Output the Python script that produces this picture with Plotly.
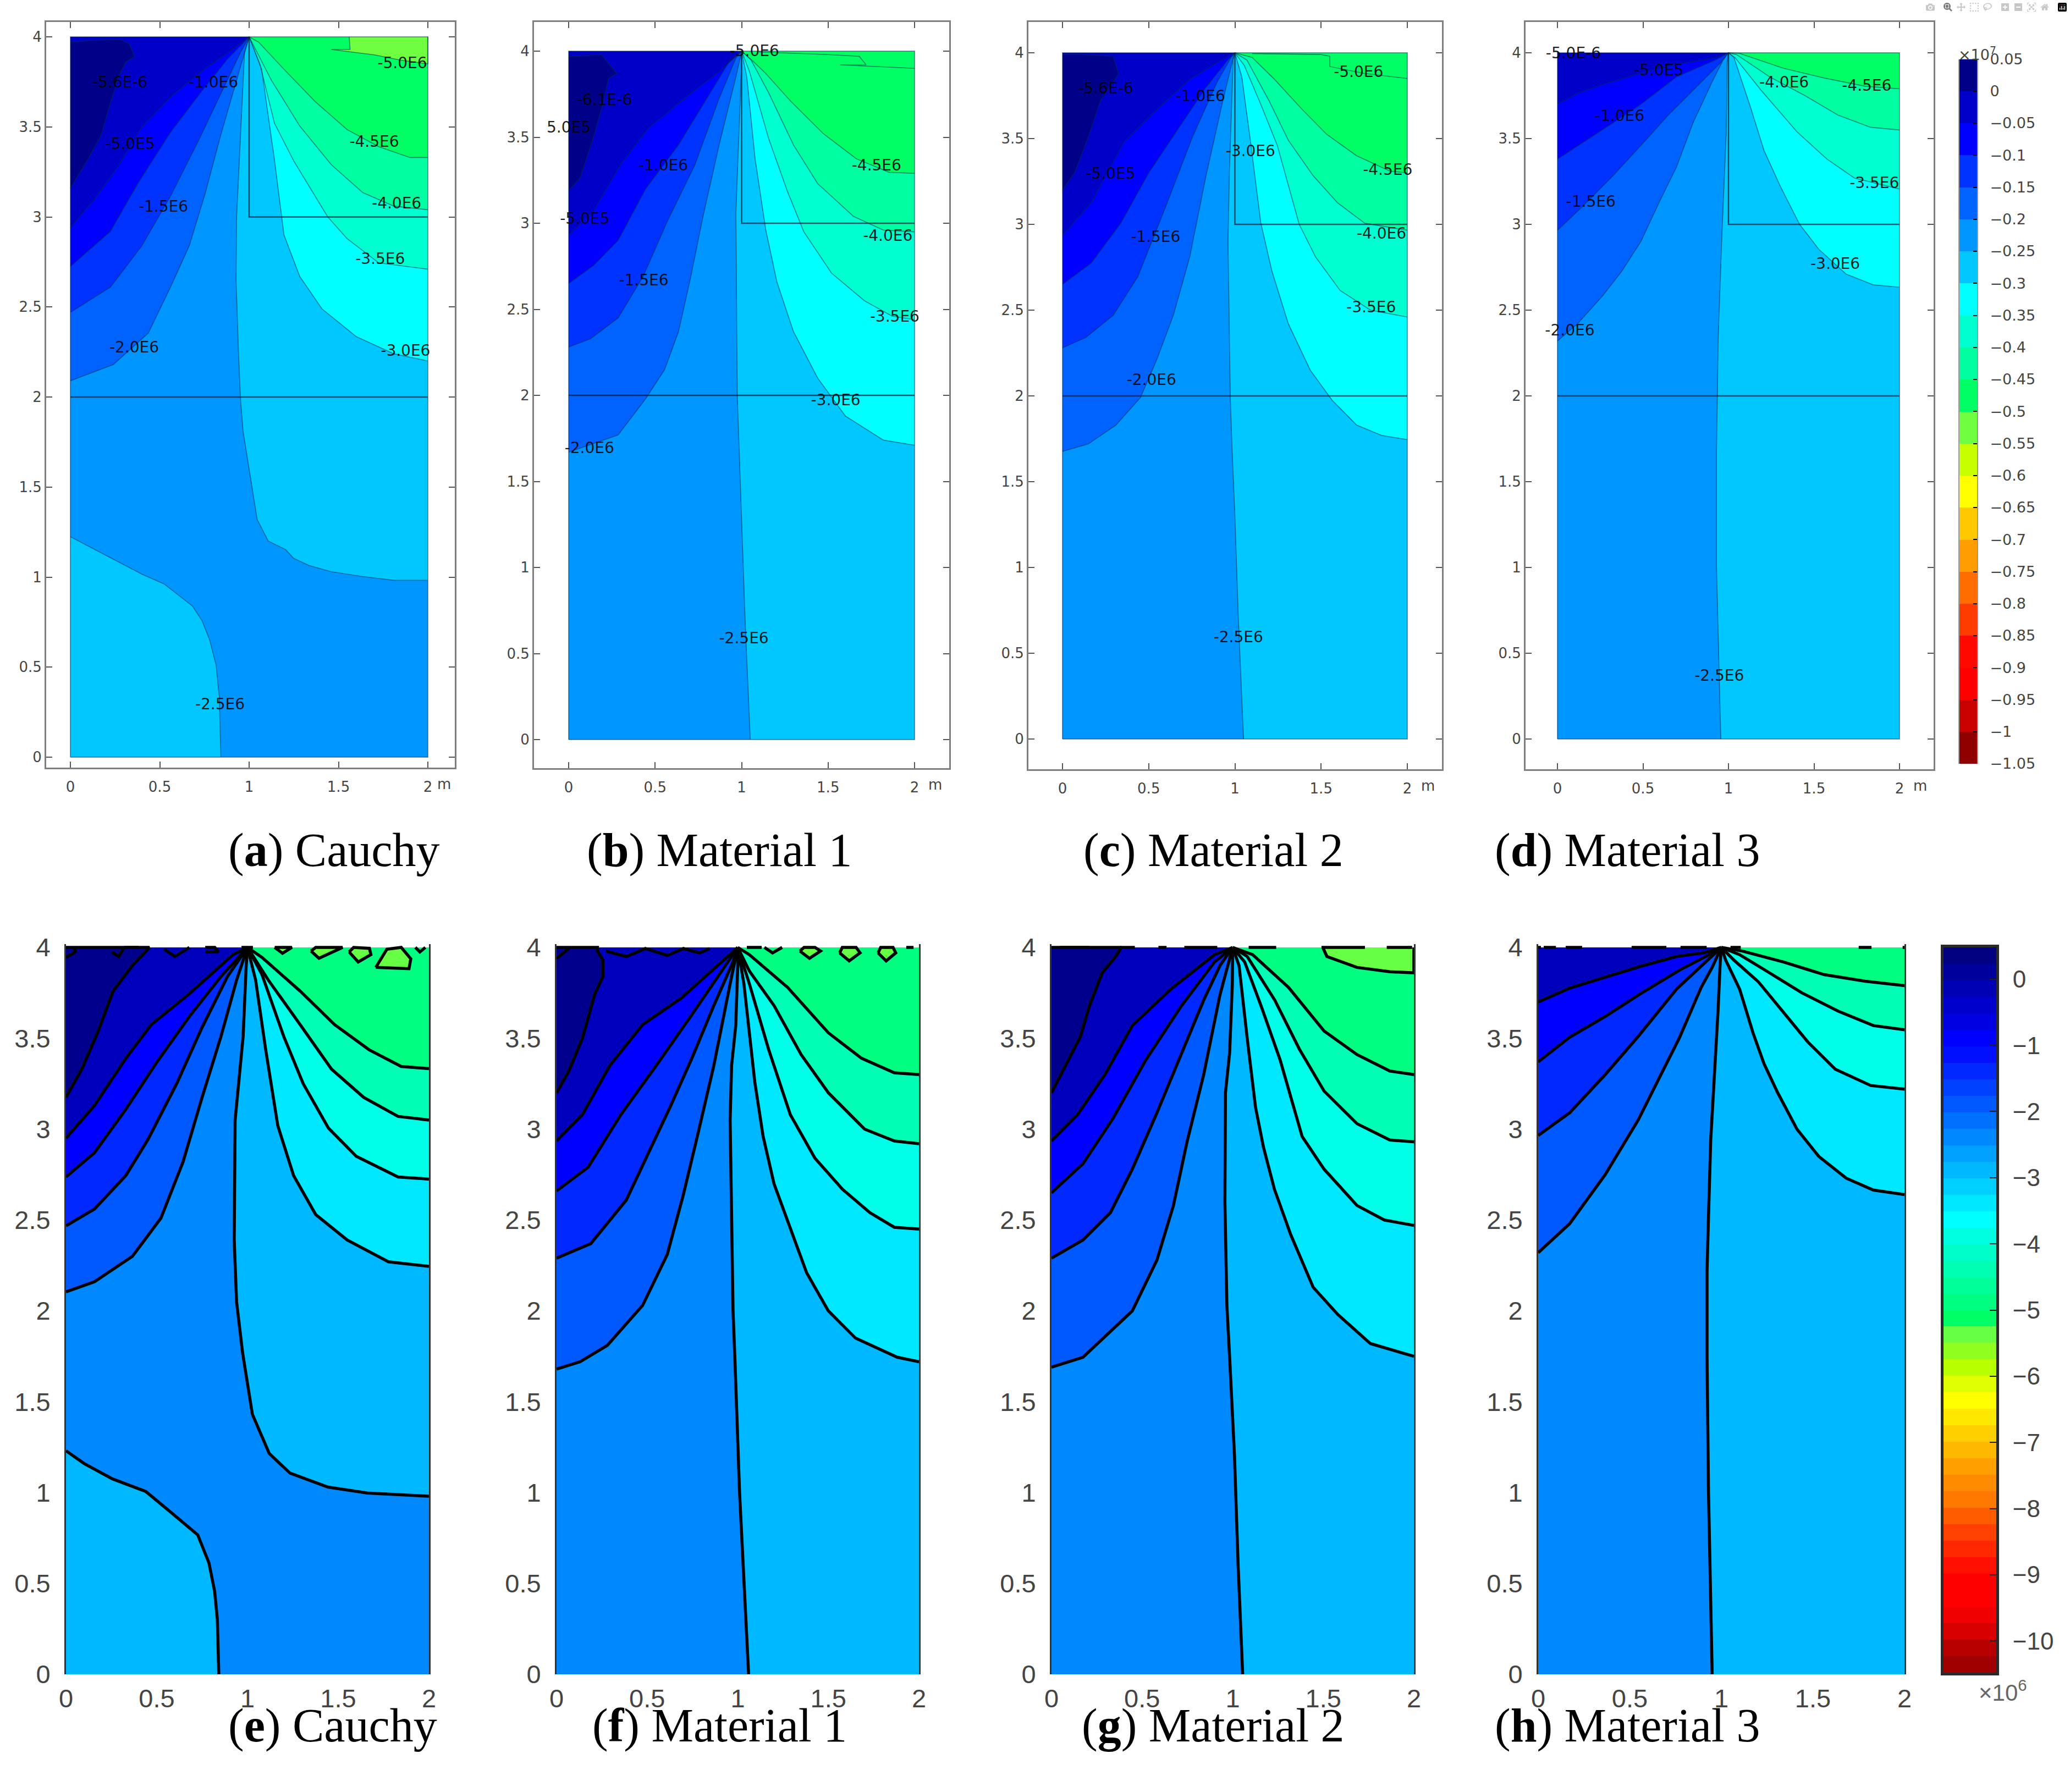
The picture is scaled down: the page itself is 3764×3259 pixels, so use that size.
import plotly.graph_objects as go

W, H = 3764, 3259
APEX = (1.0, 4.0)

# ---------- contour lines (x in m, y in m) ----------
A_LEFT = [
    [(0,3.16),(.08,3.29),(.17,3.45),(.22,3.62),(.27,3.78),(.31,3.86),(.36,3.89),(.33,3.96),(.28,3.985),(.12,3.98),(0,3.97)],
    [(0,2.94),(.136,3.10),(.26,3.27),(.40,3.50),(.577,3.68),(.75,3.82),(.88,3.91)],
    [(0,2.725),(.224,2.92),(.38,3.19),(.56,3.47),(.736,3.70),(.877,3.875)],
    [(0,2.47),(.224,2.61),(.40,2.84),(.56,3.115),(.72,3.43),(.84,3.68),(.95,3.91)],
    [(0,2.09),(.24,2.18),(.436,2.355),(.56,2.61),(.665,2.84),(.754,3.13),(.84,3.45),(.93,3.76)],
]
A_MID = [(.974,3.91),(.93,3.0),(.927,2.65),(.94,2.26),(.951,2),(.966,1.81),(1.02,1.48),(1.045,1.32),(1.107,1.2),(1.204,1.153),(1.248,1.105),(1.336,1.064),(1.46,1.03),(1.636,1.003),(1.81,.982),(2,.982)]
A_LOWER = [(0,1.224),(.136,1.153),(.295,1.07),(.40,1.016),(.524,.962),(.595,.907),(.683,.839),(.737,.757),(.78,.648),(.815,.512),(.833,.334),(.842,0)]
A_RIGHT = [
    [(1.07,3.82),(1.14,3.33),(1.195,2.90),(1.283,2.67),(1.407,2.49),(1.60,2.335),(1.81,2.24),(2,2.2)],
    [(1.06,3.85),(1.142,3.52),(1.25,3.31),(1.44,3.0),(1.548,2.88),(1.725,2.745),(2,2.71)],
    [(1.124,3.76),(1.283,3.505),(1.46,3.29),(1.636,3.135),(1.81,3.06),(2,3.04)],
    [(1.054,3.97),(1.195,3.82),(1.37,3.64),(1.548,3.485),(1.725,3.39),(1.9,3.33),(2,3.33)],
]
A_TOP_PATCH = [(1.56,4),(1.565,3.93),(1.46,3.93),(1.7,3.90),(1.85,3.87),(2,3.85),(2,4)]

B_LEFT = [
    [(0,3.19),(.065,3.26),(.144,3.5),(.207,3.725),(.23,3.84),(.278,3.87),(.19,3.98),(.05,3.97),(0,3.97)],
    [(0,2.93),(.144,3.07),(.30,3.34),(.46,3.55),(.65,3.71),(.87,3.88)],
    [(0,2.65),(.144,2.755),(.286,2.9),(.445,3.2),(.635,3.455),(.79,3.71),(.935,3.95)],
    [(0,2.28),(.128,2.33),(.286,2.45),(.43,2.69),(.57,3.01),(.73,3.34),(.87,3.725),(.967,3.96)],
    [(0,1.67),(.14,1.72),(.286,1.77),(.445,1.98),(.555,2.15),(.635,2.37),(.70,2.66),(.777,3.04),(.87,3.455),(.967,3.85)],
]
B_MID = [(1,3.93),(.967,3.06),(.975,2),(.986,1.68),(1.0,1.3),(1.02,.7),(1.05,0)]
B_RIGHT = [
    [(1.03,3.85),(1.078,3.375),(1.14,2.96),(1.204,2.66),(1.3,2.37),(1.44,2.10),(1.6,1.88),(1.82,1.74),(2,1.71)],
    [(1.046,3.88),(1.157,3.49),(1.267,3.18),(1.36,2.95),(1.52,2.71),(1.71,2.55),(1.87,2.46),(2,2.44)],
    [(1.054,3.95),(1.157,3.757),(1.3,3.455),(1.44,3.23),(1.647,3.04),(1.82,2.96),(2,2.95)],
    [(1.078,3.93),(1.14,3.87),(1.283,3.71),(1.473,3.52),(1.663,3.375),(1.853,3.296),(2,3.29)],
]
B_TOP_TRACE = [(1.1,3.995),(1.5,3.98),(1.68,3.97),(1.72,3.92),(1.57,3.92),(2,3.9)]

C_LEFT = [
    [(0,3.2),(.07,3.3),(.15,3.51),(.22,3.72),(.325,3.877),(.294,3.98),(.1,3.99),(0,3.99)],
    [(0,2.935),(.167,3.126),(.357,3.48),(.516,3.64),(.738,3.845),(.976,3.99)],
    [(0,2.65),(.167,2.775),(.34,3.01),(.5,3.3),(.66,3.54),(.833,3.8),(.96,3.96)],
    [(0,2.28),(.135,2.34),(.294,2.47),(.437,2.695),(.595,3.094),(.754,3.51),(.897,3.83),(.976,3.97)],
    [(0,1.676),(.15,1.72),(.31,1.83),(.452,1.99),(.548,2.215),(.643,2.47),(.738,2.81),(.833,3.286),(.93,3.72),(.99,3.97)],
]
C_MID = [(.99,3.96),(.968,3.3),(.96,2.9),(.973,2),(.984,1.676),(1.0,1.3),(1.02,.7),(1.05,0)]
C_RIGHT = [
    [(1.04,3.86),(1.087,3.51),(1.15,3.01),(1.214,2.73),(1.31,2.42),(1.437,2.15),(1.563,1.976),(1.706,1.83),(1.85,1.77),(2,1.745)],
    [(1.055,3.925),(1.15,3.7),(1.246,3.46),(1.373,3.0),(1.468,2.81),(1.61,2.615),(1.786,2.5),(2,2.46)],
    [(1.07,3.957),(1.2,3.717),(1.31,3.49),(1.452,3.286),(1.595,3.126),(1.754,3.006),(2,2.966)],
    [(1.1,3.973),(1.23,3.845),(1.39,3.67),(1.532,3.525),(1.706,3.4),(1.9,3.31),(2,3.3)],
]
C_TOP_TRACE = [(1.1,3.995),(1.5,3.99),(1.55,3.98),(1.55,3.92),(1.75,3.88),(2,3.85)]

D_LEFT = [
    None,
    [(0,3.70),(.12,3.765),(.28,3.82),(.47,3.877),(.696,3.933),(.92,3.97)],
    [(0,3.38),(.136,3.47),(.296,3.573),(.488,3.70),(.696,3.86),(.92,3.957)],
    [(0,2.966),(.136,3.094),(.312,3.27),(.488,3.46),(.648,3.637),(.824,3.813),(.952,3.94)],
    [(0,2.32),(.12,2.423),(.264,2.583),(.376,2.727),(.488,2.9),(.6,3.14),(.696,3.334),(.792,3.59),(.904,3.83),(.968,3.957)],
]
D_MID = [(.992,3.94),(.987,3.54),(.96,2.9),(.94,2.34),(.93,1.676),(.93,1.0),(.955,0)]
D_RIGHT = [
    [(1.032,3.973),(1.128,3.685),(1.208,3.43),(1.304,3.22),(1.416,3.0),(1.528,2.855),(1.688,2.71),(1.848,2.647),(2,2.634)],
    [(1.04,3.97),(1.192,3.78),(1.4,3.54),(1.576,3.38),(1.736,3.27),(2,3.206)],
    [(1.048,3.989),(1.24,3.86),(1.448,3.75),(1.64,3.637),(1.83,3.566),(2,3.55)],
    [(1.064,3.997),(1.32,3.91),(1.56,3.853),(1.8,3.805),(2,3.79)],
]

E_LEFT = [
    [(0,3.175),(.087,3.33),(.174,3.53),(.26,3.76),(.366,3.90),(.444,3.98),(.46,4),(0,4)],
    [(0,2.95),(.157,3.13),(.33,3.39),(.47,3.575),(.68,3.745),(.92,3.96)],
    [(0,2.737),(.157,2.87),(.33,3.11),(.505,3.375),(.68,3.62),(.854,3.84)],
    [(0,2.468),(.157,2.56),(.33,2.745),(.453,2.945),(.61,3.25),(.75,3.56),(.89,3.84)],
    [(0,2.105),(.157,2.16),(.366,2.30),(.523,2.51),(.645,2.82),(.75,3.175),(.854,3.51),(.94,3.82)],
]
E_MID = [(.993,3.9),(.976,3.51),(.932,3.05),(.927,2.39),(.94,2.05),(.973,1.77),(.996,1.617),(1.027,1.431),(1.12,1.215),(1.235,1.107),(1.444,1.03),(1.66,.998),(2,.98)]
E_LOWER = [(0,1.23),(.10,1.16),(.255,1.076),(.44,1.006),(.58,.89),(.726,.767),(.788,.612),(.819,.457),(.834,.303),(.842,0)]
E_RIGHT = [
    [(1.045,3.82),(1.10,3.44),(1.167,3.02),(1.254,2.745),(1.376,2.53),(1.55,2.39),(1.777,2.27),(2,2.245)],
    [(1.08,3.85),(1.20,3.51),(1.307,3.25),(1.446,3.006),(1.60,2.85),(1.83,2.737),(2,2.725)],
    [(1.115,3.82),(1.29,3.575),(1.463,3.33),(1.64,3.175),(1.83,3.07),(2,3.05)],
    [(1.08,3.945),(1.29,3.76),(1.48,3.575),(1.67,3.437),(1.847,3.345),(2,3.333)],
]
E_BLOBS = [
    [(1.15,4),(1.193,3.968),(1.245,4)],
    [(1.35,3.98),(1.394,3.94),(1.455,3.968),(1.524,4),(1.376,4)],
    [(1.56,3.975),(1.61,3.92),(1.68,3.96),(1.672,3.995),(1.585,4)],
    [(1.707,3.89),(1.768,3.99),(1.847,4),(1.9,3.937),(1.89,3.883)],
]
E_MARKS = [
    [(0,3.945),(.05,3.975),(.05,4)],
    [(.253,3.975),(.29,3.95),(.32,4)],
    [(.32,4),(.40,4)],
    [(.54,3.99),(.60,3.95),(.68,4)],
    [(.767,3.975),(.84,3.975),(.82,4),(.767,4)],
    [(.967,4),(1.03,4)],
    [(1.925,4),(1.95,3.975),(1.98,4)],
]

F_LEFT = [
    [(0,3.2),(.068,3.32),(.143,3.5),(.21,3.74),(.256,3.84),(.256,3.93),(.226,3.98),(.226,4),(0,4)],
    [(0,2.935),(.143,3.08),(.294,3.35),(.475,3.575),(.687,3.72),(.958,3.96)],
    [(0,2.66),(.174,2.79),(.355,3.08),(.55,3.35),(.747,3.63),(.93,3.9)],
    [(0,2.29),(.189,2.37),(.385,2.61),(.506,2.87),(.626,3.12),(.747,3.39),(.868,3.68),(.974,3.92)],
    [(0,1.68),(.13,1.72),(.28,1.81),(.475,2.03),(.611,2.31),(.70,2.64),(.777,2.96),(.868,3.35),(.958,3.8)],
]
F_MID = [(1.0,3.9),(.989,3.57),(.966,3.35),(.958,3.05),(.966,2.48),(.974,2.0),(.984,1.745),(1.01,1.0),(1.035,.5),(1.06,0)]
F_RIGHT = [
    [(1.034,3.8),(1.094,3.26),(1.14,2.96),(1.2,2.70),(1.29,2.45),(1.38,2.21),(1.50,2.0),(1.65,1.85),(1.88,1.745),(2,1.72)],
    [(1.064,3.8),(1.17,3.44),(1.29,3.08),(1.426,2.84),(1.577,2.67),(1.73,2.54),(1.864,2.46),(2,2.45)],
    [(1.064,3.87),(1.2,3.68),(1.35,3.41),(1.5,3.2),(1.70,3.0),(1.864,2.935),(2,2.92)],
    [(1.064,3.96),(1.275,3.78),(1.5,3.53),(1.683,3.39),(1.864,3.31),(2,3.30)],
]
F_BLOBS = [
    [(1.343,3.98),(1.396,3.94),(1.457,3.98),(1.426,4),(1.366,4)],
    [(1.562,3.97),(1.615,3.926),(1.675,3.97),(1.653,4),(1.577,4)],
    [(1.774,3.97),(1.819,3.926),(1.872,3.97),(1.857,4),(1.789,4)],
]
F_MARKS = [
    [(0,3.94),(.068,3.994)],
    [(.272,3.98),(.385,3.95),(.49,3.994),(.611,3.956),(.70,3.994),(.79,3.97),(.845,3.994)],
    [(1.05,4),(1.132,4)],
    [(1.147,4),(1.192,3.97),(1.245,4)],
    [(1.93,4),(1.97,4)],
]

G_LEFT = [
    [(0,3.2),(.068,3.33),(.16,3.51),(.21,3.68),(.28,3.86),(.355,3.95),(.385,4),(0,4)],
    [(0,2.935),(.144,3.08),(.295,3.30),(.446,3.57),(.658,3.77),(.9,3.96)],
    [(0,2.65),(.174,2.81),(.34,3.06),(.52,3.38),(.718,3.68),(.9,3.92)],
    [(0,2.29),(.174,2.39),(.325,2.54),(.446,2.78),(.582,3.09),(.703,3.38),(.84,3.71),(.93,3.90)],
    [(0,1.69),(.174,1.745),(.446,2.0),(.582,2.28),(.673,2.58),(.748,2.93),(.84,3.30),(.93,3.74)],
]
G_MID = [(.998,3.8),(.983,3.42),(.96,3.2),(.957,2.6),(.968,2.03),(.983,1.745),(1.01,1.2),(1.03,.6),(1.055,0)]
G_RIGHT = [
    [(1.035,3.9),(1.08,3.5),(1.126,3.12),(1.17,2.90),(1.23,2.67),(1.32,2.42),(1.444,2.13),(1.58,1.98),(1.76,1.82),(2,1.75)],
    [(1.066,3.92),(1.156,3.68),(1.262,3.38),(1.383,2.96),(1.504,2.78),(1.686,2.58),(1.837,2.5),(2,2.47)],
    [(1.08,3.95),(1.232,3.71),(1.368,3.44),(1.504,3.21),(1.686,3.03),(1.867,2.94),(2,2.93)],
    [(1.11,3.96),(1.308,3.78),(1.504,3.54),(1.686,3.41),(1.867,3.32),(2,3.30)],
]
G_TOP_PATCH = [(1.497,4),(1.52,3.95),(1.686,3.89),(1.867,3.866),(2,3.86),(2,4)]
G_MARKS = [[(.045,4),(.21,4)],[(.378,4),(.46,4)],[(.59,4),(.635,4)],[(.733,4),(.915,4)],[(1.088,4),(1.24,4)],[(1.49,4),(1.73,4)],[(1.85,4),(1.99,4)]]

H_LEFT = [
    None,
    [(0,3.70),(.172,3.776),(.366,3.836),(.56,3.896),(.755,3.95),(.904,3.97)],
    [(0,3.37),(.172,3.506),(.366,3.62),(.56,3.746),(.77,3.874),(.934,3.96)],
    [(0,2.965),(.172,3.09),(.366,3.30),(.546,3.51),(.755,3.77),(.934,3.934)],
    [(0,2.32),(.172,2.48),(.366,2.75),(.546,3.05),(.665,3.29),(.77,3.5),(.89,3.78),(.95,3.89)],
]
H_MID = [(.994,3.92),(.982,3.65),(.96,3.26),(.942,2.94),(.93,2.52),(.922,2.22),(.922,1.745),(.93,1.0),(.95,0)]
H_RIGHT = [
    [(1.024,3.93),(1.1,3.77),(1.173,3.53),(1.233,3.36),(1.308,3.2),(1.413,3.0),(1.532,2.85),(1.682,2.73),(1.83,2.665),(2,2.64)],
    [(1.069,3.93),(1.203,3.81),(1.323,3.66),(1.472,3.48),(1.622,3.33),(1.816,3.24),(2,3.22)],
    [(1.1,3.96),(1.263,3.86),(1.44,3.75),(1.637,3.65),(1.83,3.57),(2,3.547)],
    [(1.114,3.98),(1.338,3.92),(1.562,3.85),(1.786,3.814),(2,3.79)],
]
H_MARKS = [[(0,4),(.015,4)],[(.03,4),(.097,4)],[(.15,4),(.24,4)],[(.51,4),(.70,4)],[(.777,4),(.92,4)],[(1.05,4),(1.106,4)],[(1.75,4),(1.82,4)],[(1.99,4),(2,4)]]

# ---------- contour labels ----------
A_LABELS = [("-5.6E-6",.277,3.74),("-1.0E6",.80,3.74),("-5.0E6",1.857,3.846),("-5.0E5",.334,3.40),("-4.5E6",1.70,3.41),("-1.5E6",.52,3.05),("-4.0E6",1.825,3.07),("-3.5E6",1.733,2.76),("-2.0E6",.357,2.27),("-3.0E6",1.875,2.25),("-2.5E6",.837,.286)]
B_LABELS = [("-5.0E6",1.074,3.995),("-6.1E-6",.207,3.71),("5.0E5",0,3.55),("-1.0E6",.547,3.33),("-4.5E6",1.78,3.33),("-5.0E5",.093,3.02),("-1.5E6",.434,2.66),("-4.0E6",1.845,2.92),("-3.5E6",1.885,2.45),("-3.0E6",1.544,1.965),("-2.0E6",.12,1.686),("-2.5E6",1.013,.58)]
C_LABELS = [("-5.6E-6",.25,3.786),("-1.0E6",.80,3.74),("-5.0E6",1.717,3.88),("-3.0E6",1.09,3.42),("-5.0E5",.278,3.29),("-4.5E6",1.886,3.31),("-1.5E6",.54,2.92),("-4.0E6",1.85,2.94),("-3.5E6",1.79,2.51),("-2.0E6",.516,2.085),("-2.5E6",1.02,.585)]
D_LABELS = [("-5.0E-6",.093,3.99),("-5.0E5",.592,3.89),("-4.0E6",1.325,3.82),("-4.5E6",1.808,3.80),("-1.0E6",.363,3.626),("-3.5E6",1.853,3.235),("-1.5E6",.195,3.126),("-3.0E6",1.624,2.763),("-2.0E6",.072,2.375),("-2.5E6",.946,.362)]

# ---------- tick labels and captions ----------
X_TICKS = [0, 0.5, 1, 1.5, 2]
Y_TICKS = [0, 0.5, 1, 1.5, 2, 2.5, 3, 3.5, 4]
CAPTIONS_TOP = [("a", "Cauchy"), ("b", "Material 1"), ("c", "Material 2"), ("d", "Material 3")]
CAPTIONS_BOTTOM = [("e", "Cauchy"), ("f", "Material 1"), ("g", "Material 2"), ("h", "Material 3")]

# ---------- colour bars ----------
TOP_BAR_TICKS = [0.05,0,-0.05,-0.1,-0.15,-0.2,-0.25,-0.3,-0.35,-0.4,-0.45,-0.5,-0.55,-0.6,-0.65,-0.7,-0.75,-0.8,-0.85,-0.9,-0.95,-1,-1.05]
TOP_BAR_TEXT = ["0.05","0","\u22120.05","\u22120.1","\u22120.15","\u22120.2","\u22120.25","\u22120.3","\u22120.35","\u22120.4","\u22120.45","\u22120.5","\u22120.55","\u22120.6","\u22120.65","\u22120.7","\u22120.75","\u22120.8","\u22120.85","\u22120.9","\u22120.95","\u22121","\u22121.05"]
TOP_BAR_COLORS = ["#000088","#0000c8","#0000ff","#0033ff","#0062ff","#0096ff","#00c8ff","#00ffff","#00ffd0","#00ffa0","#00ff64","#70ff40","#c8ff00","#ffff00","#ffc800","#ff9c00","#ff6c00","#ff3c00","#ff0800","#ff0000","#c80000","#900000"]
BOT_BAR_TICKS = [0,-1,-2,-3,-4,-5,-6,-7,-8,-9,-10]
BOT_BAR_TEXT = ["0","\u22121","\u22122","\u22123","\u22124","\u22125","\u22126","\u22127","\u22128","\u22129","\u221210"]
BOT_BAR_COLORS = ["#000080","#00009c","#0000b4","#0000cc","#0000e0","#0000ff","#0010ff","#0028ff","#0040ff","#0058ff","#0070ff","#0088ff","#00a0ff","#00b8ff","#00d0ff","#00e8ff","#00ffff","#00ffe0","#00ffc8","#00ffb0","#00ff98","#00ff80","#00ff66","#66ff44","#90ff20","#b8ff00","#e0ff00","#ffff00","#ffe800","#ffd000","#ffb800","#ffa000","#ff8c00","#ff7800","#ff5c00","#ff4000","#ff2800","#ff1000","#ff0000","#ff0000","#f00000","#d80000","#b80000","#a00000"]

TOP_FILLS = dict(left=["#000088","#0000c8","#0000ff","#0033ff","#0062ff"], mid="#0096ff", base="#00c8ff", right=["#00ffff","#00ffd0","#00ffa0","#00ff64"], patch="#70ff40")
BOT_FILLS = dict(left=["#00008c","#0000bc","#0000ff","#0028ff","#0058ff"], mid="#0088ff", base="#00b8ff", right=["#00e8ff","#00ffe8","#00ffb4","#00ff80"], patch="#66ff44")

fig = go.Figure()

def poly(points, color, xa, ya):
    fig.add_trace(go.Scatter(x=[p[0] for p in points], y=[p[1] for p in points], mode="lines",
                             fill="toself", fillcolor=color, line=dict(width=0, color=color),
                             xaxis=xa, yaxis=ya, hoverinfo="skip", showlegend=False))

def stroke(lines, color, width, xa, ya):
    xs, ys = [], []
    for ln in lines:
        xs += [p[0] for p in ln] + [None]
        ys += [p[1] for p in ln] + [None]
    fig.add_trace(go.Scatter(x=xs, y=ys, mode="lines", line=dict(color=color, width=width),
                             xaxis=xa, yaxis=ya, hoverinfo="skip", showlegend=False))

def contour_panel(n, left, mid, right, fills, lw, lc, lower=None, patch=None, blobs=(), marks=(), extra=()):
    xa, ya = f"x{n}", f"y{n}"
    poly([(0,0),(2,0),(2,4),(0,4)], fills["base"], xa, ya)
    mid_line = [APEX] + mid
    closing = ([(2,0)] + lower[::-1]) if lower else [(0,0)]
    poly([(0,4)] + mid_line + closing, fills["mid"], xa, ya)
    lines = [mid_line] + ([lower] if lower else [])
    for i in range(4, -1, -1):
        ln = left[i]
        if ln is None:
            continue
        # the innermost contour of some panels ends on the top edge, the others at the apex
        full = ln if i == 0 else ln + [APEX]
        poly(full + [(0,4)], fills["left"][i], xa, ya)
        lines.append(full)
    for i, ln in enumerate(right):
        full = [APEX] + ln
        poly(full + [(2,4)], fills["right"][i], xa, ya)
        lines.append(full)
    if patch:
        poly(patch, fills["patch"], xa, ya)
        lines.append(patch)
    for b in blobs:
        poly(b, fills["patch"], xa, ya)
        lines.append(b + [b[0]])
    lines += list(marks) + list(extra)
    stroke(lines, lc, lw, xa, ya)

def px_x(v): return v / W
def px_y(v): return 1 - v / H

TOP_GEOM = [  # frame L,R,T,B ; data x0,x2,y4,y0
    (84, 827, 40, 1396, 128, 778, 67, 1377),
    (971, 1726, 40, 1397, 1034, 1663, 93, 1345),
    (1870, 2622, 40, 1399, 1932, 2559, 96, 1344),
    (2774, 3516, 40, 1399, 2832, 3454, 96, 1344),
]
BOT_GEOM = [  # data x0,x2,y-top pixel,y0
    (120, 780), (1012, 1671), (1912, 2571), (2797, 3463),
]
BOT_TOP_PX, BOT_Y4_PX, BOT_Y0_PX = 1717, 1723, 3045
LINE_TOP = "rgba(0,45,75,0.55)"

top_data = [
    (A_LEFT, A_MID, A_RIGHT, A_LABELS, dict(lower=A_LOWER, patch=A_TOP_PATCH)),
    (B_LEFT, B_MID, B_RIGHT, B_LABELS, dict(extra=[B_TOP_TRACE])),
    (C_LEFT, C_MID, C_RIGHT, C_LABELS, dict(extra=[C_TOP_TRACE])),
    (D_LEFT, D_MID, D_RIGHT, D_LABELS, dict()),
]
bot_data = [
    (E_LEFT, E_MID, E_RIGHT, dict(lower=E_LOWER, blobs=E_BLOBS, marks=E_MARKS)),
    (F_LEFT, F_MID, F_RIGHT, dict(blobs=F_BLOBS, marks=F_MARKS)),
    (G_LEFT, G_MID, G_RIGHT, dict(patch=G_TOP_PATCH, marks=G_MARKS)),
    (H_LEFT, H_MID, H_RIGHT, dict(marks=H_MARKS)),
]

layout = dict(width=W, height=H, margin=dict(l=0, r=0, t=0, b=0, autoexpand=False),
              paper_bgcolor="white", plot_bgcolor="white", showlegend=False)

TOP_FONT = dict(family="DejaVu Sans", size=26, color="#444444")
BOT_FONT = dict(family="Liberation Sans", size=47, color="#444444")
annotations = []

for k, (left, mid, right, labels, kw) in enumerate(top_data):
    n = k + 1
    L, R, T, B, x0, x2, y4, y0 = TOP_GEOM[k]
    ux, uy = (x2 - x0) / 2, (y0 - y4) / 4
    contour_panel(n, left, mid, right, TOP_FILLS, 1.6, LINE_TOP, **kw)
    # model edges: the line at y = 2 and the corner box
    stroke([[(0,2),(2,2)], [(1,4),(1,3),(2,3)]], "rgba(0,30,60,0.75)", 2.4, f"x{n}", f"y{n}")
    stroke([[(0,0),(2,0),(2,4),(0,4),(0,0)]], "rgba(0,40,70,0.45)", 2, f"x{n}", f"y{n}")
    fig.add_trace(go.Scatter(x=[l[1] for l in labels], y=[l[2] for l in labels], text=[l[0] for l in labels],
                             mode="text", textposition="middle center", cliponaxis=False,
                             textfont=dict(family="DejaVu Sans", size=28, color="rgba(0,0,0,0.88)"),
                             xaxis=f"x{n}", yaxis=f"y{n}", hoverinfo="skip", showlegend=False))
    ax = dict(showgrid=False, zeroline=False, showline=True, linecolor="#7f7f7f", linewidth=3, mirror="allticks",
              ticks="inside", ticklen=11, tickwidth=2, tickcolor="#555555", tickfont=TOP_FONT)
    layout[f"xaxis{n}"] = dict(ax, domain=[px_x(L), px_x(R)], range=[(L - x0) / ux, (R - x0) / ux],
                               tickvals=X_TICKS, anchor=f"y{n}", ticklabelstandoff=10)
    layout[f"yaxis{n}"] = dict(ax, domain=[px_y(B), px_y(T)], range=[(y0 - B) / uy, (y0 - T) / uy],
                               tickvals=Y_TICKS, anchor=f"x{n}")
    annotations.append(dict(x=2 + (R - x2) * 0.6 / ux, y=px_y(B + 30), xref=f"x{n}", yref="paper", text="m",
                            showarrow=False, font=TOP_FONT))

for k, (left, mid, right, kw) in enumerate(bot_data):
    n = k + 5
    x0, x2 = BOT_GEOM[k]
    uy = (BOT_Y0_PX - BOT_Y4_PX) / 4
    contour_panel(n, left, mid, right, BOT_FILLS, 5.5, "black", **kw)
    layout[f"xaxis{n}"] = dict(showgrid=False, zeroline=False, showline=False, ticks="", tickfont=BOT_FONT,
                               domain=[px_x(x0), px_x(x2)], range=[0, 2], tickvals=X_TICKS, anchor=f"y{n}",
                               ticklabelstandoff=12)
    layout[f"yaxis{n}"] = dict(showgrid=False, zeroline=False, showline=True, linecolor="#333333", linewidth=3,
                               mirror=True, ticks="", tickfont=BOT_FONT,
                               domain=[px_y(BOT_Y0_PX), px_y(BOT_TOP_PX)],
                               range=[0, (BOT_Y0_PX - BOT_TOP_PX) / uy], tickvals=Y_TICKS, anchor=f"x{n}",
                               ticklabelstandoff=16)

def caption(letter, name, cx, cy):
    annotations.append(dict(x=px_x(cx), y=px_y(cy), xref="paper", yref="paper", showarrow=False,
                            text=f"(<b>{letter}</b>) {name}",
                            font=dict(family="Liberation Serif", size=86, color="black")))

CAPTION_X = [413, 1308, 2206, 3202]
for (lt, nm), cx in zip(CAPTIONS_TOP, CAPTION_X):
    caption(lt, nm, cx, 1546)
for (lt, nm), cx in zip(CAPTIONS_BOTTOM, CAPTION_X):
    caption(lt, nm, cx, 3188)

# ---- colour bars: heat maps on their own axes ----
def discrete_scale(colors):
    m = len(colors)
    out = []
    for i, c in enumerate(colors):
        out += [[i / m, c], [(i + 1) / m, c]]
    return out

def colour_bar(n, colors, vmax, vmin, domx, domy):
    step = (vmax - vmin) / len(colors)
    centres = [vmax - step * (i + 0.5) for i in range(len(colors))]
    fig.add_trace(go.Heatmap(x=[0], y=centres, z=[[-i] for i in range(len(colors))], zmin=-len(colors) + 0.5, zmax=0.5,
                             colorscale=discrete_scale(colors[::-1]), showscale=False, xaxis=f"x{n}", yaxis=f"y{n}",
                             hoverinfo="skip"))
    layout[f"xaxis{n}"] = dict(domain=domx, range=[-0.5, 0.5], showticklabels=False, ticks="", showgrid=False,
                               zeroline=False, anchor=f"y{n}")

colour_bar(9, TOP_BAR_COLORS, 0.05, -1.05, [px_x(3563), px_x(3595)], [px_y(1389), px_y(107.5)])
layout["yaxis9"] = dict(domain=[px_y(1389), px_y(107.5)], range=[-1.05, 0.05], side="right", anchor="x9",
                        tickvals=TOP_BAR_TICKS, ticktext=TOP_BAR_TEXT, ticks="inside", ticklen=7, tickwidth=2,
                        tickcolor="black", showgrid=False, zeroline=False, ticklabelstandoff=16,
                        showline=True, linecolor="#999999", linewidth=2, mirror=True,
                        tickfont=dict(family="DejaVu Sans", size=27, color="#444444"))
annotations.append(dict(x=px_x(3632), y=px_y(78), xref="paper", yref="paper", showarrow=False, text="\u00d710<sup>7</sup>",
                        font=dict(family="DejaVu Sans", size=27, color="#444444")))

colour_bar(10, BOT_BAR_COLORS, 0.48, -10.48, [px_x(3534), px_x(3630)], [px_y(3042), px_y(1723)])
layout["xaxis10"].update(showline=True, linecolor="#2a2a2a", linewidth=5, mirror=True)
layout["yaxis10"] = dict(domain=[px_y(3042), px_y(1723)], range=[-10.48, 0.48], side="right", anchor="x10",
                         tickvals=BOT_BAR_TICKS, ticktext=BOT_BAR_TEXT, ticks="inside", ticklen=12, tickwidth=2,
                         tickcolor="#222222", showgrid=False, zeroline=False, ticklabelstandoff=16,
                         showline=True, linecolor="#2a2a2a", linewidth=5, mirror=True, tickfont=dict(BOT_FONT, size=44))
annotations.append(dict(x=px_x(3688), y=px_y(3104), xref="paper", yref="paper", showarrow=False, text="\u00d710<sup>6</sup>",
                        font=dict(family="Liberation Sans", size=42, color="#666666")))

layout["annotations"] = annotations
fig.update_layout(**layout)
fig.write_html("out.html", post_script="document.body.style.margin='0';document.documentElement.style.overflow='hidden';")
